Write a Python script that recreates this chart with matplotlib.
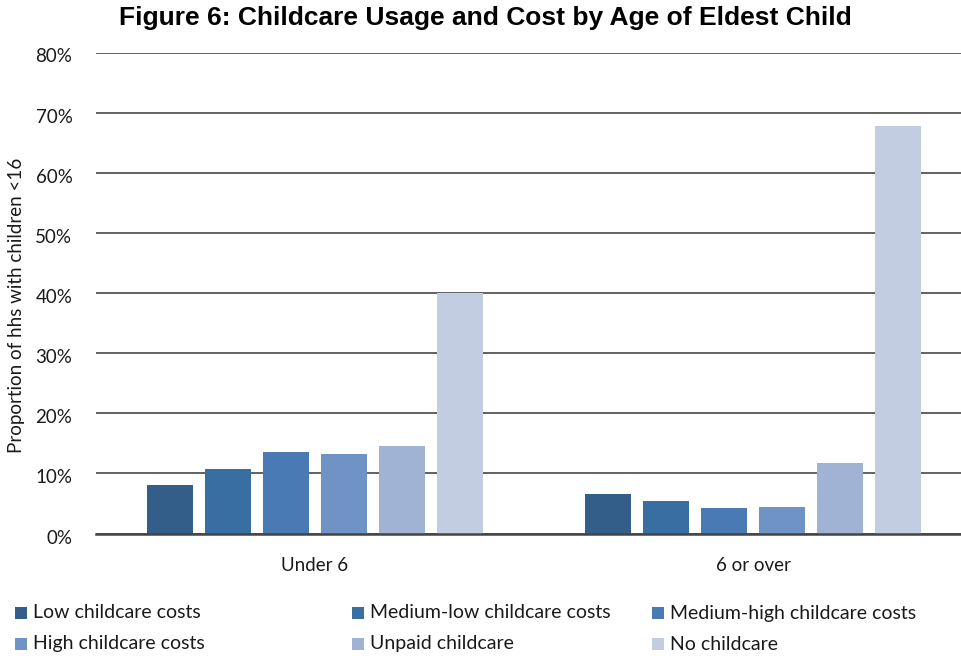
import matplotlib
matplotlib.use("Agg")
import matplotlib.pyplot as plt
import matplotlib.transforms as mtransforms
import numpy as np
from matplotlib.patches import Rectangle

categories = ["Under 6", "6 or over"]
series_names = ["Low childcare costs", "Medium-low childcare costs", "Medium-high childcare costs",
                "High childcare costs", "Unpaid childcare", "No childcare"]
low = [8.0, 6.5]
med_low = [10.7, 5.4]
med_high = [13.6, 4.2]
high = [13.2, 4.4]
unpaid = [14.5, 11.7]
none_ = [40.0, 67.8]
values = [low, med_low, med_high, high, unpaid, none_]
colors = ["#345E8A", "#386EA2", "#4A7AB3", "#7093C6", "#A0B3D5", "#C2CDE2"]
yticks = [0, 10, 20, 30, 40, 50, 60, 70, 80]

W, H = 962, 656
FONT = "Lato"
fig = plt.figure(figsize=(W/100, H/100), dpi=100)
ax = fig.add_axes([96/W, 1-533.5/H, (W-96)/W, (533.5-52.5)/H])

x = np.arange(len(categories))
step = 0.1328
width = 0.105
for i, (vals, c) in enumerate(zip(values, colors)):
    ax.bar(x + (i-2.5)*step, vals, width=width, color=c, zorder=3)

ax.set_xlim(-0.5, 1.477)
ax.set_ylim(0, 80)
ax.set_yticks(yticks)
ax.set_yticklabels([f"{t}%" for t in yticks], fontsize=13.5, family=FONT, color="#1a1a1a")
ax.set_xticks(x)
ax.set_xticklabels(categories, fontsize=13.5, family=FONT, color="#1a1a1a")
ax.tick_params(length=0, axis="both")
ax.tick_params(axis="x", pad=17)
ax.tick_params(axis="y", pad=17)
offset = mtransforms.ScaledTranslation(0, -3/100, fig.dpi_scale_trans)
for lab in ax.get_yticklabels():
    lab.set_transform(lab.get_transform() + offset)
ax.grid(axis="y", color="#555555", linewidth=1.3, zorder=0)
for s in ["top", "right", "left"]:
    ax.spines[s].set_visible(False)
ax.spines["bottom"].set_color("#444444")
ax.spines["bottom"].set_linewidth(1.8)
ax.spines["bottom"].set_zorder(4)

fig.text(17/W, 1-305/H, "Proportion of hhs with children <16", rotation=90,
         ha="center", va="center", fontsize=13.5, family=FONT, color="#1a1a1a")
fig.text(485/W, 1-18/H, "Figure 6: Childcare Usage and Cost by Age of Eldest Child",
         ha="center", va="center", fontsize=19, fontweight="bold", family="Liberation Sans")

# legend laid out as in the reference: 3 columns, 2 rows
col_x = [15, 352, 652]
row_y = [613, 644]
sq = 12
for k, (name, c) in enumerate(zip(series_names, colors)):
    r, cidx = divmod(k, 3)
    px, py = col_x[cidx], row_y[r]
    fig.patches.append(Rectangle((px/W, 1-(py+sq/2)/H), sq/W, sq/H, transform=fig.transFigure,
                                 facecolor=c, edgecolor="none"))
    fig.text((px+sq+6)/W, 1-py/H, name, ha="left", va="center", fontsize=14,
             family=FONT, color="#1a1a1a")
plt.savefig("out.png", dpi=100)
